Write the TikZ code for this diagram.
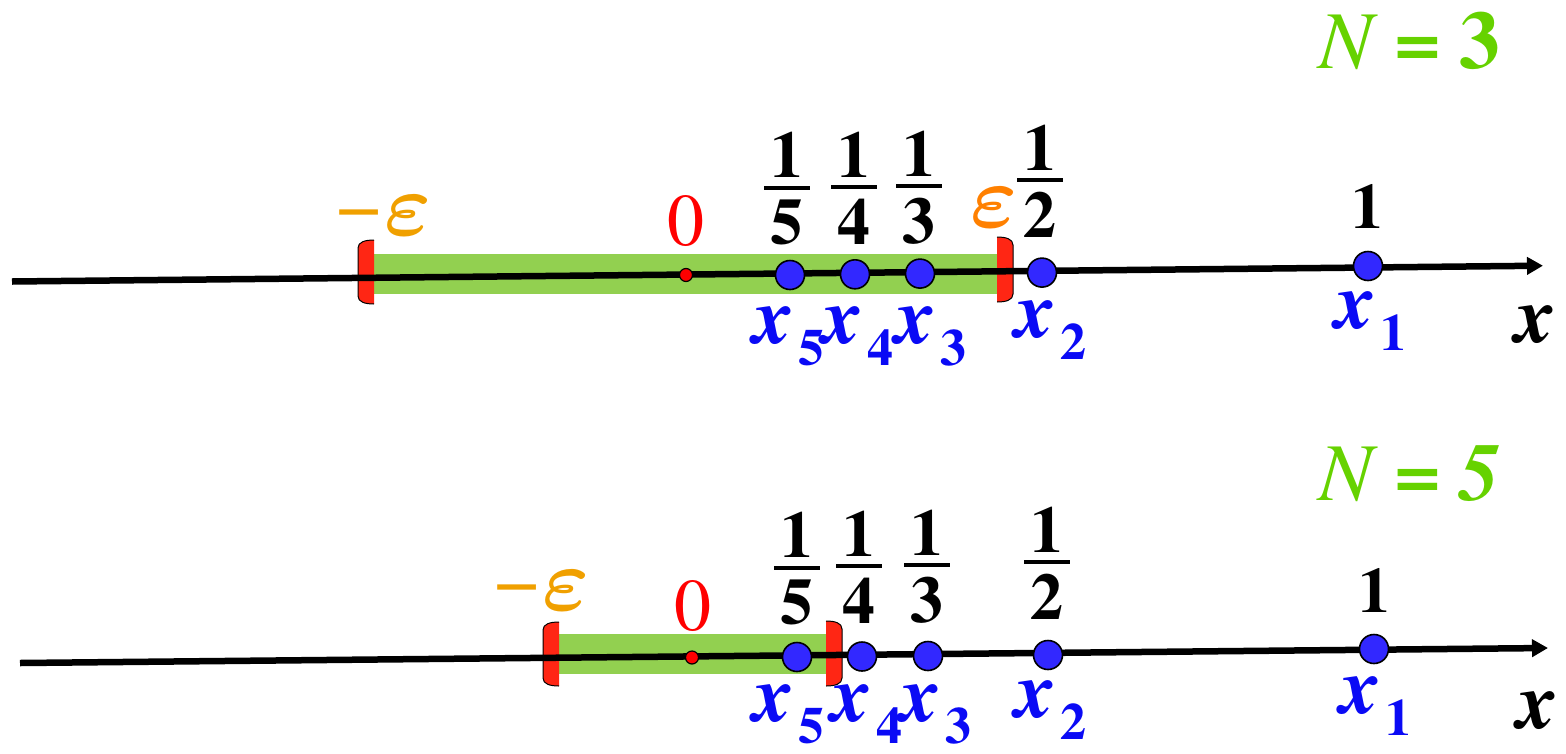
\documentclass[tikz,border=0pt]{standalone}
\usepackage{graphicx}
\usepackage{fontspec}
\IfFontExistsTF{texgyretermes-regular.otf}{%
  \setmainfont{texgyretermes}[Extension=.otf,UprightFont=*-regular,
    BoldFont=*-bold,ItalicFont=*-italic,BoldItalicFont=*-bolditalic]}{}
\usetikzlibrary{arrows.meta}

\definecolor{bandgreen}{RGB}{146,208,80}
\definecolor{brkred}{RGB}{255,38,20}
\definecolor{dotblue}{RGB}{50,40,255}
\definecolor{lblblue}{RGB}{10,10,245}
\definecolor{titlegreen}{RGB}{102,210,0}
\definecolor{epsamber}{RGB}{240,160,0}
\definecolor{epsorange}{RGB}{255,128,0}
\definecolor{zerored}{RGB}{255,0,0}

% fraction 1/n as a stacked box
\newcommand\onefrac[1]{\vbox{\offinterlineskip
  \hbox to 46pt{\hss 1\hss}\kern 8pt\hrule height 4pt\kern 10pt
  \hbox to 46pt{\hss #1\hss}}}
% blue point label x_n
\newcommand\ptlabel[1]{{\bfseries\itshape x}\kern 5pt\raisebox{-22pt}{\fontsize{52}{52}\selectfont\bfseries #1}}
% epsilon, enlarged from the math font
\newcommand\veps{\scalebox{4.3}{\fontsize{20}{24}\selectfont\boldmath$\varepsilon$}}
\newcommand\negeps{\raisebox{3pt}{\fontsize{80}{80}\selectfont −}\kern 3pt\veps}
% interval end marks: inner edge x, top y, bottom y
\newcommand\intmarkL[3]{%
  \fill[brkred] (#1,#2) .. controls (#1-9,#2) and (#1-16,#2+2) .. (#1-16,#2+8)
    -- (#1-16,#3-8) .. controls (#1-16,#3-2) and (#1-9,#3) .. (#1,#3) -- cycle;
  \draw[line width=1pt] (#1,#2) .. controls (#1-9,#2) and (#1-16,#2+2) .. (#1-16,#2+8)
    -- (#1-16,#3-8) .. controls (#1-16,#3-2) and (#1-9,#3) .. (#1,#3);}
\newcommand\intmarkR[3]{%
  \fill[brkred] (#1,#2) .. controls (#1+9,#2) and (#1+16,#2+2) .. (#1+16,#2+8)
    -- (#1+16,#3-8) .. controls (#1+16,#3-2) and (#1+9,#3) .. (#1,#3) -- cycle;
  \draw[line width=1pt] (#1,#2) .. controls (#1+9,#2) and (#1+16,#2+2) .. (#1+16,#2+8)
    -- (#1+16,#3-8) .. controls (#1+16,#3-2) and (#1+9,#3) .. (#1,#3);}

\begin{document}
\begin{tikzpicture}[x=1pt,y=-1pt,
  axis/.style={line width=6.5pt,-{Triangle[length=16pt,width=17pt]}},
  band/.style={fill=bandgreen},
  pt/.style={circle,fill=dotblue,draw=black,line width=1.6pt,minimum size=29pt,inner sep=0pt},
  zdot/.style={circle,fill=zerored,draw=black,line width=1.2pt,minimum size=13pt,inner sep=0pt},
  frac/.style={anchor=south,inner sep=0pt,font=\fontsize{66}{66}\selectfont\bfseries},
  one/.style={anchor=base,inner sep=0pt,font=\fontsize{64}{64}\selectfont\bfseries},
  zero/.style={anchor=base,inner sep=0pt,text=zerored,font=\fontsize{74}{74}\selectfont},
  eps/.style={anchor=base west,inner sep=0pt},
  ptl/.style={anchor=base west,inner sep=0pt,text=lblblue,font=\fontsize{80}{80}\selectfont},
  axl/.style={anchor=base west,inner sep=0pt,font=\fontsize{80}{80}\selectfont\bfseries\itshape},
  title/.style={anchor=base west,inner sep=0pt,text=titlegreen,font=\fontsize{82}{82}\selectfont}]
\useasboundingbox (0,0) rectangle (1566,753);

% ---------- first line: N = 3 ----------
\node[title] (t1) at (1318,68) {{\itshape N}\hspace{22pt}{\bfseries =}\hspace{18pt}{\bfseries 3}};
\fill[band] (370,254) rectangle (1000,294);
\intmarkL{374}{240}{304}
\intmarkR{997}{237}{302}
\coordinate (a1) at (12,281.5);
\coordinate (b1) at (1543,265.7);
\draw[axis] (a1) -- (b1);
\node[zdot] (z1) at (686,275) {};
\node[pt] (p15) at (790,275) {};
\node[pt] (p14) at (855,274.3) {};
\node[pt] (p13) at (920,273.6) {};
\node[pt] (p12) at (1042,272.6) {};
\node[pt] (p11) at (1368,266) {};

\node[eps,text=epsamber] (me1) at (336,235) {\negeps};
\node[eps,text=epsorange] (pe1) at (970,227) {\veps};
\node[zero] (o1) at (686,245) {0};
\node[frac] (f15) at (787,245) {\onefrac{5}};
\node[frac] (f14) at (854,245) {\onefrac{4}};
\node[frac] (f13) at (919,245) {\onefrac{3}};
\node[frac] (f12) at (1040,238) {\onefrac{2}};
\node[one] (u1) at (1367,228) {1};

\node[ptl] (l15) at (753,343) {\ptlabel{5}};
\node[ptl] (l14) at (822,343) {\ptlabel{4}};
\node[ptl] (l13) at (895,343) {\ptlabel{3}};
\node[ptl] (l12) at (1015,337) {\ptlabel{2}};
\node[ptl] (l11) at (1335,328) {\ptlabel{1}};
\node[axl] (xa1) at (1515,342) {x};

% ---------- second line: N = 5 ----------
\node[title] (t2) at (1318,500) {{\itshape N}\hspace{22pt}{\bfseries =}\hspace{18pt}{\bfseries\itshape 5}};
\fill[band] (556,634) rectangle (829,674);
\intmarkL{559}{622}{686}
\intmarkR{826}{621}{686}
\coordinate (a2) at (20,663);
\coordinate (b2) at (1548,648);
\draw[axis] (a2) -- (b2);
\node[zdot] (z2) at (692,657.5) {};
\node[pt] (p25) at (797,657) {};
\node[pt] (p24) at (862,656.5) {};
\node[pt] (p23) at (928,656) {};
\node[pt] (p22) at (1048,655) {};
\node[pt] (p21) at (1374,649) {};

\node[eps,text=epsamber] (me2) at (494,610) {\negeps};
\node[zero] (o2) at (693,630) {0};
\node[frac] (f25) at (797,625) {\onefrac{5}};
\node[frac] (f24) at (859,624) {\onefrac{4}};
\node[frac] (f23) at (927,624) {\onefrac{3}};
\node[frac] (f22) at (1047,620) {\onefrac{2}};
\node[one] (u2) at (1374,612) {1};

\node[ptl] (l25) at (753,721) {\ptlabel{5}};
\node[ptl] (l24) at (831,721) {\ptlabel{4}};
\node[ptl] (l23) at (900,721) {\ptlabel{3}};
\node[ptl] (l22) at (1015,717) {\ptlabel{2}};
\node[ptl] (l21) at (1340,713) {\ptlabel{1}};
\node[axl] (xa2) at (1517,728) {x};
\end{tikzpicture}
\end{document}
